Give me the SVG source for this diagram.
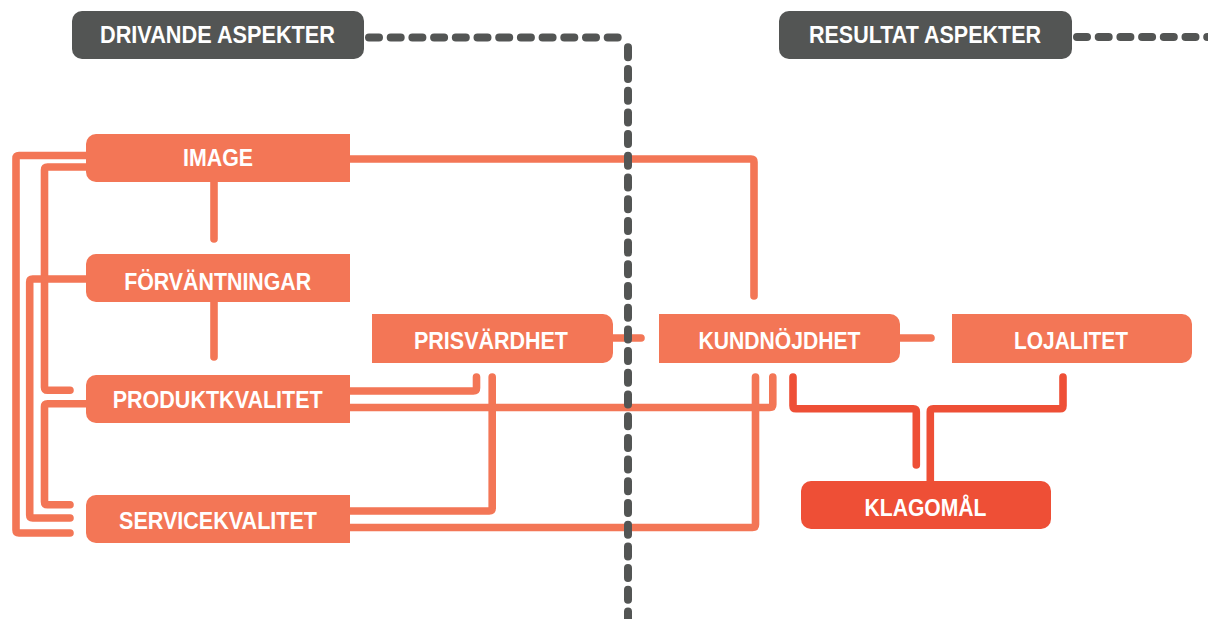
<svg xmlns="http://www.w3.org/2000/svg" width="1208" height="619" viewBox="0 0 1208 619">
<style>
.bg{fill:#ffffff}
.hdr{fill:#535554}
.box{fill:#F37656}
.red{fill:#EE4F36}
.t{font-family:"Liberation Sans",Arial,sans-serif;font-weight:bold;font-size:23px;fill:#ffffff;text-anchor:middle}
.c{fill:none;stroke:#F37656;stroke-width:7.6;stroke-linecap:round;stroke-linejoin:round}
.cr{fill:none;stroke:#EE4F36;stroke-width:7.6;stroke-linecap:round;stroke-linejoin:round}
.d{fill:none;stroke:#535554;stroke-width:8;stroke-linecap:round;stroke-dasharray:10 11.7}
</style>
<rect class="bg" x="0" y="0" width="1208" height="619"/>

<g id="connectors">
  <!-- left bundle -->
  <path class="c" d="M 86 155.5 H 19 Q 16 155.5 16 158.5 V 530 Q 16 533 19 533 H 70"/>
  <path class="c" d="M 86 167 H 47.5 Q 44.5 167 44.5 170 V 387.3 Q 44.5 390.3 47.5 390.3 H 70"/>
  <path class="c" d="M 86 279 H 32.7 Q 29.7 279 29.7 282 V 515 Q 29.7 518 32.7 518 H 70"/>
  <path class="c" d="M 86 403.7 H 47.5 Q 44.5 403.7 44.5 406.7 V 501.7 Q 44.5 504.7 47.5 504.7 H 70"/>
  <!-- vertical between left boxes -->
  <path class="c" d="M 214 182 V 239"/>
  <path class="c" d="M 214 302 V 357"/>
  <!-- IMAGE to KUNDNÖJDHET -->
  <path class="c" d="M 350 159 H 751 Q 754 159 754 162 V 296"/>
  <!-- PRODUKTKVALITET -->
  <path class="c" d="M 350 391 H 473.3 Q 476.5 391 476.5 388 V 377"/>
  <path class="c" d="M 350 407.5 H 769.8 Q 772.8 407.5 772.8 404.5 V 377"/>
  <!-- SERVICEKVALITET -->
  <path class="c" d="M 350 511 H 489.2 Q 492.2 511 492.2 508 V 377"/>
  <path class="c" d="M 350 527.5 H 752.5 Q 755.5 527.5 755.5 524.5 V 377"/>
  <!-- horizontal links -->
  <path class="c" d="M 613 338 H 641"/>
  <path class="c" d="M 900 338 H 931"/>
  <!-- red to KLAGOMÅL -->
  <path class="cr" d="M 793 377 V 405.7 Q 793 408.7 796 408.7 H 913.3 Q 916.3 408.7 916.3 411.7 V 465"/>
  <path class="cr" d="M 1063 377 V 405.7 Q 1063 408.7 1060 408.7 H 933.3 Q 930.3 408.7 930.3 411.7 V 483"/>
  <!-- dashed dividers -->
  <path class="d" d="M 369 37.5 H 620"/>
  <path class="d" d="M 628 47.3 V 625"/>
  <path class="d" d="M 1077 37 H 1215"/>
</g>

<g id="drivande">
  <rect class="hdr" x="72" y="11" width="292" height="48" rx="10"/>
  <text class="t" x="217.5" y="43" textLength="235" lengthAdjust="spacingAndGlyphs">DRIVANDE ASPEKTER</text>
</g>
<g id="resultat">
  <rect class="hdr" x="779" y="11" width="293" height="48" rx="10"/>
  <text class="t" x="925" y="43" textLength="232" lengthAdjust="spacingAndGlyphs">RESULTAT ASPEKTER</text>
</g>

<g id="image">
  <path class="box" d="M 96 134 H 350 V 182 H 96 A 10 10 0 0 1 86 172 V 144 A 10 10 0 0 1 96 134 Z"/>
  <text class="t" x="218" y="166.2" textLength="70" lengthAdjust="spacingAndGlyphs">IMAGE</text>
</g>
<g id="forvantningar">
  <path class="box" d="M 96 254 H 350 V 302 H 96 A 10 10 0 0 1 86 292 V 264 A 10 10 0 0 1 96 254 Z"/>
  <text class="t" x="217.7" y="289.5" textLength="187" lengthAdjust="spacingAndGlyphs">FÖRVÄNTNINGAR</text>
</g>
<g id="produktkvalitet">
  <path class="box" d="M 96 375 H 350 V 423 H 96 A 10 10 0 0 1 86 413 V 385 A 10 10 0 0 1 96 375 Z"/>
  <text class="t" x="217.7" y="407.5" textLength="210" lengthAdjust="spacingAndGlyphs">PRODUKTKVALITET</text>
</g>
<g id="servicekvalitet">
  <path class="box" d="M 96 495 H 350 V 543 H 96 A 10 10 0 0 1 86 533 V 505 A 10 10 0 0 1 96 495 Z"/>
  <text class="t" x="218" y="528.5" textLength="198" lengthAdjust="spacingAndGlyphs">SERVICEKVALITET</text>
</g>

<g id="prisvardhet">
  <path class="box" d="M 372 314 H 603 A 10 10 0 0 1 613 324 V 353 A 10 10 0 0 1 603 363 H 372 Z"/>
  <text class="t" x="491" y="349.3" textLength="154" lengthAdjust="spacingAndGlyphs">PRISVÄRDHET</text>
</g>
<g id="kundnojdhet">
  <path class="box" d="M 659 314 H 890 A 10 10 0 0 1 900 324 V 353 A 10 10 0 0 1 890 363 H 659 Z"/>
  <text class="t" x="779.5" y="348.7" textLength="162" lengthAdjust="spacingAndGlyphs">KUNDNÖJDHET</text>
</g>
<g id="lojalitet">
  <path class="box" d="M 952 314 H 1182 A 10 10 0 0 1 1192 324 V 353 A 10 10 0 0 1 1182 363 H 952 Z"/>
  <text class="t" x="1071" y="348.7" textLength="114" lengthAdjust="spacingAndGlyphs">LOJALITET</text>
</g>
<g id="klagomal">
  <rect class="red" x="801" y="481" width="250" height="48" rx="10"/>
  <text class="t" x="925.5" y="516.2" textLength="122" lengthAdjust="spacingAndGlyphs">KLAGOMÅL</text>
</g>
</svg>
